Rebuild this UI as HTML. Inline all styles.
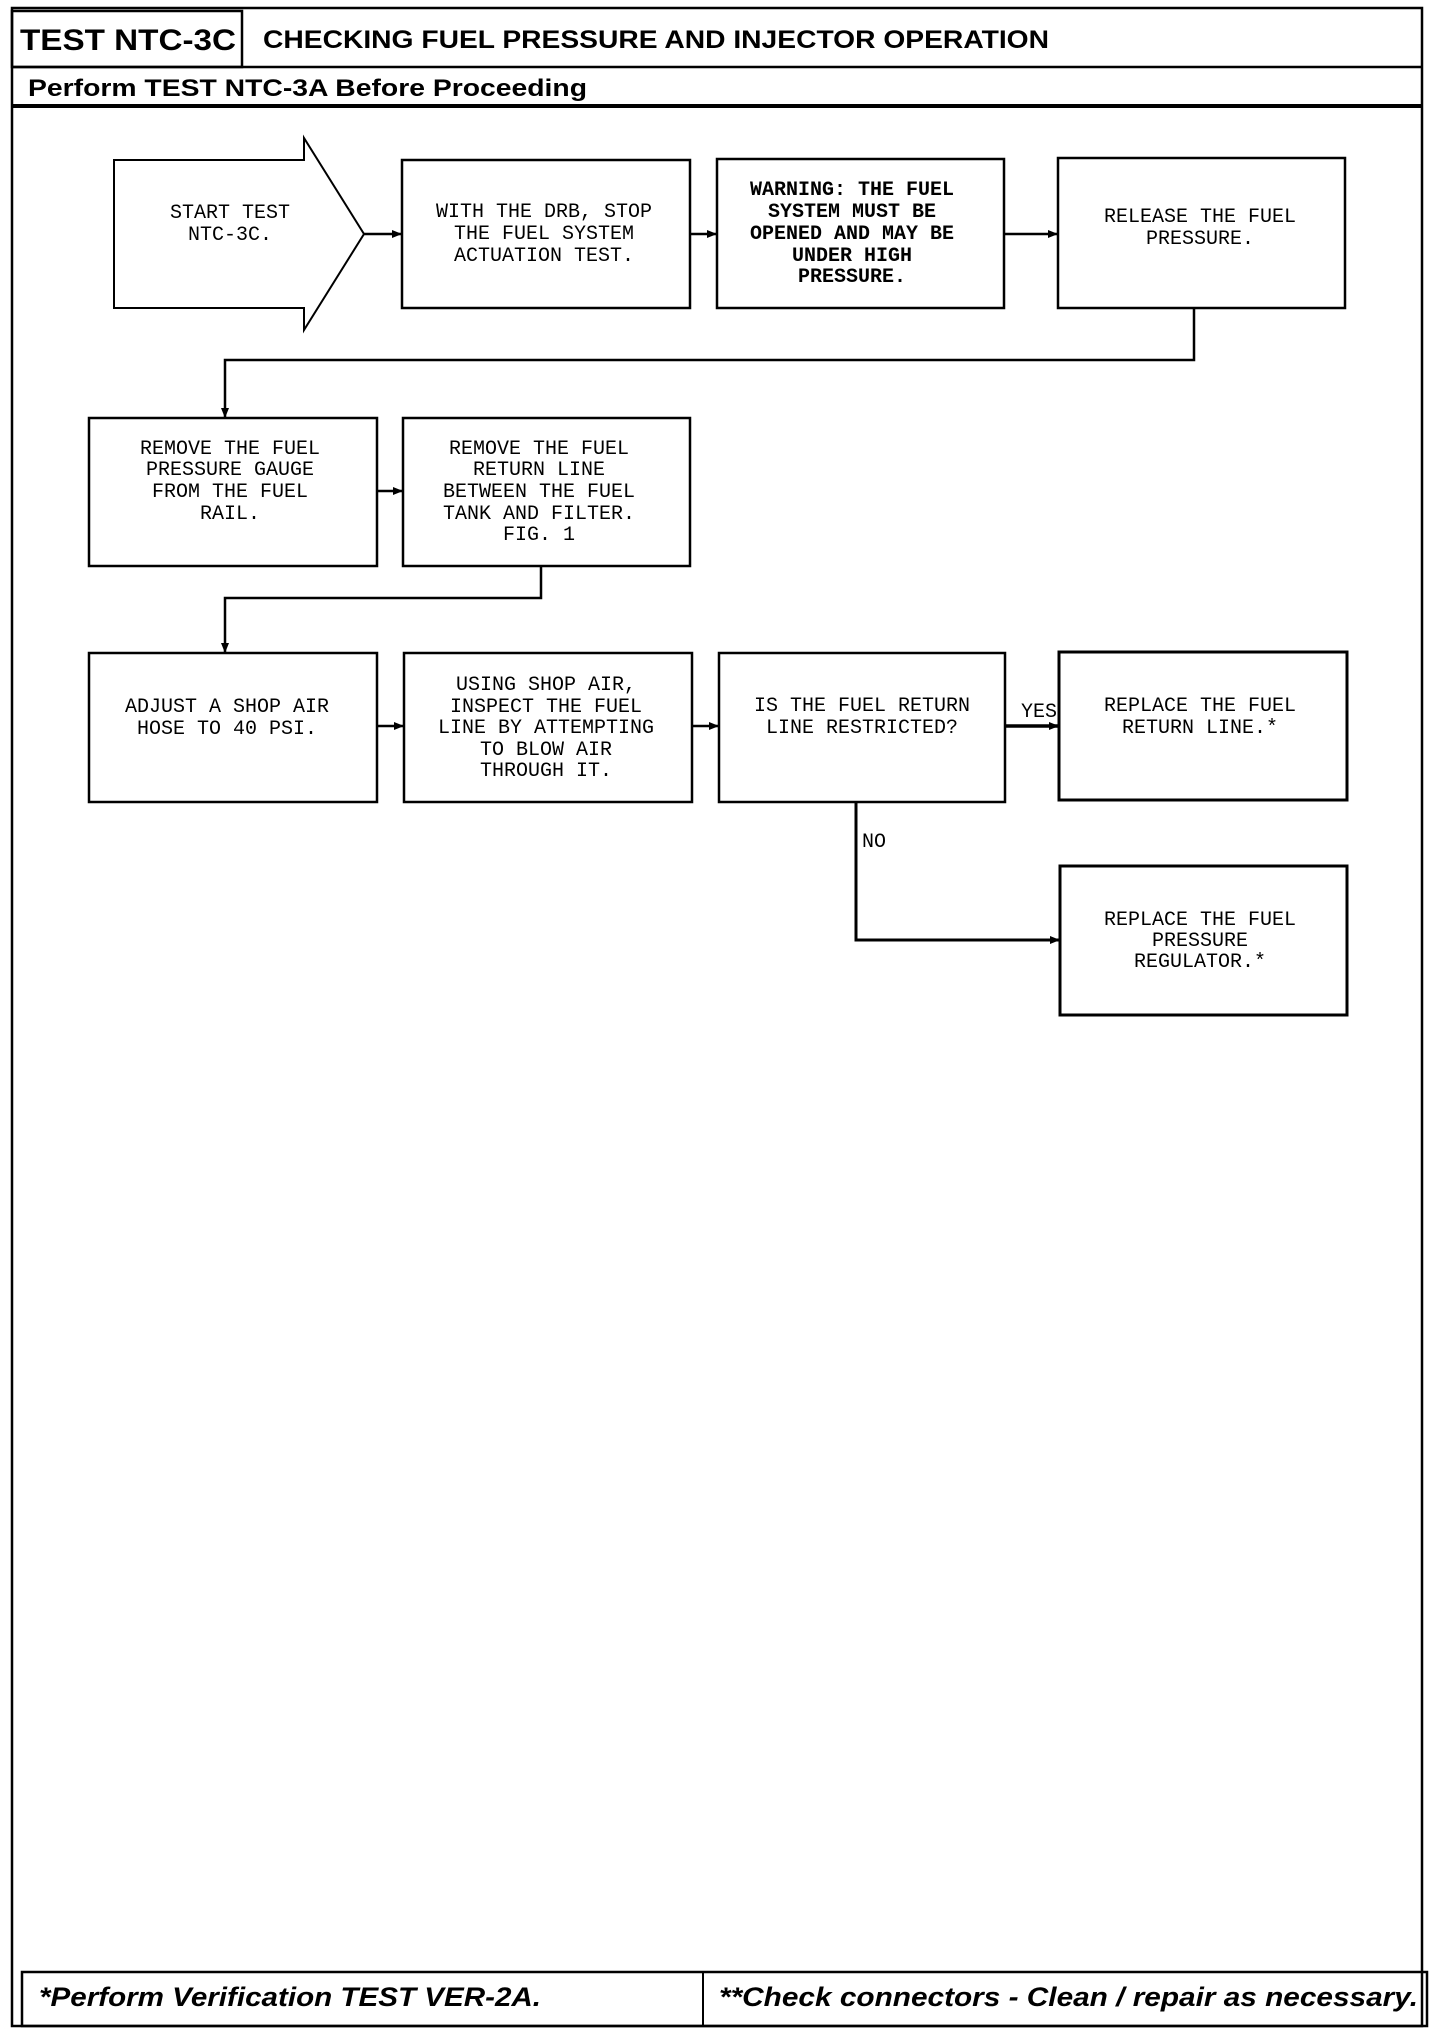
<!DOCTYPE html>
<html><head><meta charset="utf-8"><style>
html,body{margin:0;padding:0;background:#fff;}
svg{display:block;}
.m{font-family:"Liberation Mono",monospace;font-size:20px;fill:#000;text-anchor:middle;}
.b{font-family:"Liberation Sans",sans-serif;font-weight:bold;fill:#000;}
</style></head><body>
<svg width="1440" height="2032" viewBox="0 0 1440 2032" xmlns="http://www.w3.org/2000/svg">
<defs><marker id="a" markerWidth="10" markerHeight="10" refX="9" refY="5" orient="auto" markerUnits="userSpaceOnUse"><path d="M0,1 L10,5 L0,9 Z" fill="#000"/></marker></defs>
<g fill="none" stroke="#000">
<rect x="12" y="8" width="1410" height="2018" stroke-width="2.5"/>
<rect x="12" y="11" width="230" height="56" stroke-width="2.5"/>
<line x1="12" y1="67" x2="1422" y2="67" stroke-width="2.5"/>
<line x1="12" y1="106" x2="1422" y2="106" stroke-width="4"/>
<rect x="22" y="1972" width="1405" height="54" stroke-width="2.5"/>
<line x1="703" y1="1972" x2="703" y2="2026" stroke-width="2"/>

<path d="M114,160 H304 V138 L364,234 L304,330 V308 H114 Z" stroke-width="2"/>
<rect x="402" y="160" width="288" height="148" stroke-width="2.5"/>
<rect x="717" y="159" width="287" height="149" stroke-width="2.5"/>
<rect x="1058" y="158" width="287" height="150" stroke-width="2.5"/>
<rect x="89" y="418" width="288" height="148" stroke-width="2.5"/>
<rect x="403" y="418" width="287" height="148" stroke-width="2.5"/>
<rect x="89" y="653" width="288" height="149" stroke-width="2.5"/>
<rect x="404" y="653" width="288" height="149" stroke-width="2.5"/>
<rect x="719" y="653" width="286" height="149" stroke-width="2.5"/>
<rect x="1059" y="652" width="288" height="148" stroke-width="3"/>
<rect x="1060" y="866" width="287" height="149" stroke-width="3"/>

<g stroke-width="2.5" marker-end="url(#a)">
<line x1="364" y1="234" x2="401" y2="234"/>
<line x1="690" y1="234" x2="716" y2="234"/>
<line x1="1004" y1="234" x2="1057" y2="234"/>
<polyline points="1194,308 1194,360 225,360 225,417"/>
<line x1="377" y1="491" x2="402" y2="491"/>
<polyline points="541,566 541,598 225,598 225,652"/>
<line x1="377" y1="726" x2="403" y2="726"/>
<line x1="692" y1="726" x2="718" y2="726"/>
<line x1="1005" y1="726" x2="1058" y2="726" stroke-width="3.5"/>
<polyline points="856,802 856,940 1059,940" stroke-width="3"/>
</g>
</g>

<text class="b" x="20" y="50" font-size="30" textLength="216" lengthAdjust="spacingAndGlyphs">TEST NTC-3C</text>
<text class="b" x="263" y="48" font-size="25" textLength="786" lengthAdjust="spacingAndGlyphs">CHECKING FUEL PRESSURE AND INJECTOR OPERATION</text>
<text class="b" x="28" y="96" font-size="24" textLength="559" lengthAdjust="spacingAndGlyphs">Perform TEST NTC-3A Before Proceeding</text>
<text class="b" x="39" y="2006" font-size="27" font-style="italic" textLength="502" lengthAdjust="spacingAndGlyphs">*Perform Verification TEST VER-2A.</text>
<text class="b" x="719" y="2006" font-size="27" font-style="italic" textLength="699" lengthAdjust="spacingAndGlyphs">**Check connectors - Clean / repair as necessary.</text>

<g class="m">
<text x="230" y="218">START TEST</text><text x="230" y="240">NTC-3C.</text>
<text x="544" y="217">WITH THE DRB, STOP</text><text x="544" y="239">THE FUEL SYSTEM</text><text x="544" y="261">ACTUATION TEST.</text>
<g font-weight="bold"><text x="852" y="195">WARNING: THE FUEL</text><text x="852" y="217">SYSTEM MUST BE</text><text x="852" y="239">OPENED AND MAY BE</text><text x="852" y="261">UNDER HIGH</text><text x="852" y="282">PRESSURE.</text></g>
<text x="1200" y="222">RELEASE THE FUEL</text><text x="1200" y="244">PRESSURE.</text>
<text x="230" y="454">REMOVE THE FUEL</text><text x="230" y="475">PRESSURE GAUGE</text><text x="230" y="497">FROM THE FUEL</text><text x="230" y="519">RAIL.</text>
<text x="539" y="454">REMOVE THE FUEL</text><text x="539" y="475">RETURN LINE</text><text x="539" y="497">BETWEEN THE FUEL</text><text x="539" y="519">TANK AND FILTER.</text><text x="539" y="540">FIG. 1</text>
<text x="227" y="712">ADJUST A SHOP AIR</text><text x="227" y="734">HOSE TO 40 PSI.</text>
<text x="546" y="690">USING SHOP AIR,</text><text x="546" y="712">INSPECT THE FUEL</text><text x="546" y="733">LINE BY ATTEMPTING</text><text x="546" y="755">TO BLOW AIR</text><text x="546" y="776">THROUGH IT.</text>
<text x="862" y="711">IS THE FUEL RETURN</text><text x="862" y="733">LINE RESTRICTED?</text>
<text x="1200" y="711">REPLACE THE FUEL</text><text x="1200" y="733">RETURN LINE.*</text>
<text x="1200" y="925">REPLACE THE FUEL</text><text x="1200" y="946">PRESSURE</text><text x="1200" y="967">REGULATOR.*</text>
<text x="1039" y="717">YES</text>
<text x="874" y="847">NO</text>
</g>
</svg>
</body></html>
